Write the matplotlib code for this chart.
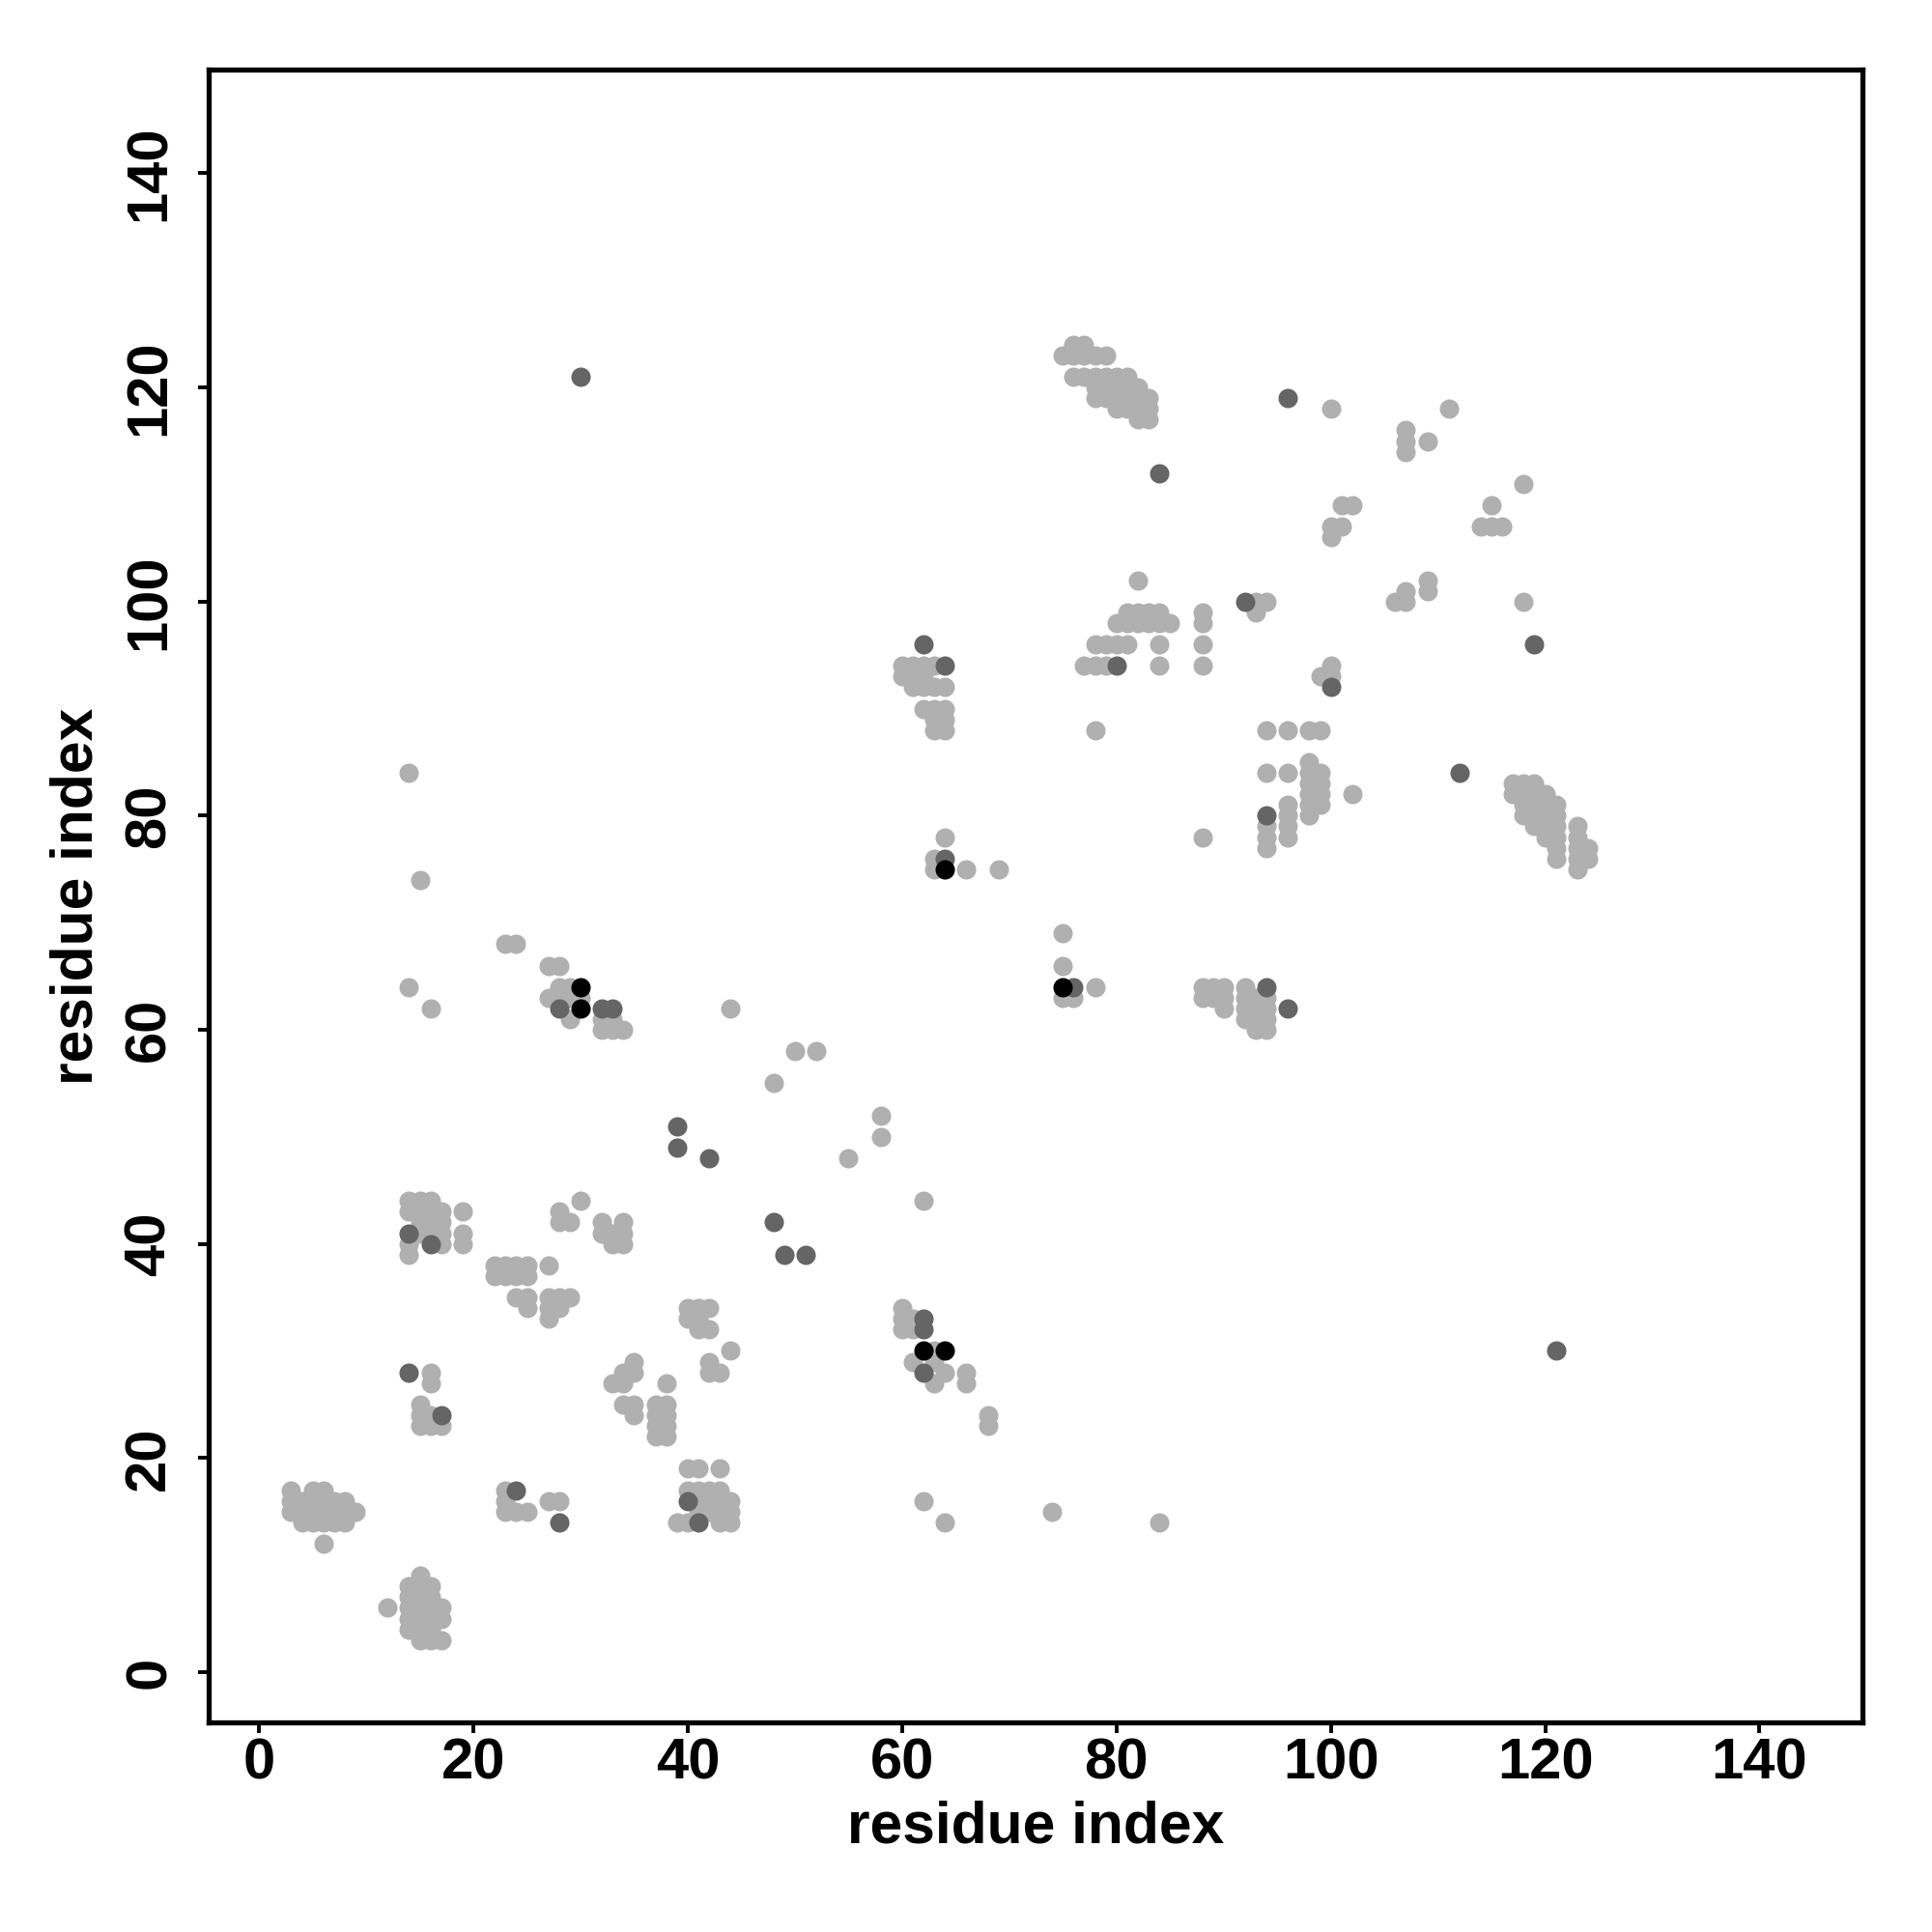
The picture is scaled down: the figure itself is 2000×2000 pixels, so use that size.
import numpy as np
import matplotlib
matplotlib.use("Agg")
import matplotlib.pyplot as plt

plt.rcParams['font.family'] = ['Liberation Sans', 'DejaVu Sans']

# contact map points (residue i, residue j), grouped by shade
light_pts = [
    (3,17),(5,17),(6,17),(3,16),(4,16),(5,16),(6,16),(7,16),(8,16),
    (3,15),(4,15),(5,15),(6,15),(7,15),(8,15),(9,15),(4,14),(5,14),(6,14),(7,14),(8,14),(6,12),
    (12,6),(14,4),(14,5),(14,6),(14,7),(14,8),(15,3),(15,4),(15,5),(15,6),(15,7),(15,8),(15,9),
    (16,3),(16,4),(16,5),(16,6),(16,7),(16,8),(17,3),(17,5),(17,6),
    (14,39),(14,40),(14,43),(14,44),(15,41),(15,42),(15,43),(15,44),(16,41),(16,42),(16,43),(16,44),
    (17,40),(17,41),(17,42),(17,43),(19,40),(19,41),(19,43),
    (16,28),(16,27),(15,25),(15,24),(15,23),(16,24),(16,23),(17,23),
    (14,64),(14,84),(15,74),(16,62),
    (22,38),(23,38),(24,38),(25,38),(22,37),(23,37),(24,37),(25,37),(27,38),
    (24,35),(25,35),(25,34),(27,35),(27,34),(27,33),(28,35),(28,34),(29,35),
    (23,68),(24,68),
    (27,66),(28,66),(28,64),(29,64),(27,63),(28,63),(29,63),(30,63),(29,61),
    (32,61),(33,61),(32,60),(33,60),(34,60),
    (28,43),(28,42),(29,42),(30,44),(32,42),(32,41),(33,41),(33,40),(34,42),(34,41),(34,40),
    (35,29),(34,28),(35,28),(33,27),(34,27),(34,25),(35,25),(35,24),(38,27),
    (37,25),(37,24),(37,23),(37,22),(38,25),(38,24),(38,23),(38,22),
    (23,17),(23,16),(23,15),(24,15),(25,15),(27,16),(28,16),
    (40,19),(41,19),(43,19),(40,17),(41,17),(42,17),(43,17),(41,16),(42,16),(43,16),(44,16),
    (41,15),(42,15),(43,15),(44,15),(39,14),(40,14),(43,14),(44,14),
    (40,34),(41,34),(42,34),(40,33),(41,33),(41,32),(42,32),(44,30),(42,29),(42,28),(43,28),
    (44,62),(50,58),(52,58),(48,55),(58,52),(58,50),(55,48),(62,44),
    (60,34),(60,33),(61,33),(60,32),(61,32),(63,30),(61,29),(63,29),(64,28),(63,27),
    (66,28),(66,27),(68,24),(68,23),
    (62,16),(64,14),(74,15),(84,14),
    (64,78),(63,76),(63,75),(66,75),(69,75),
    (75,69),(75,66),(78,64),(75,63),(76,63),
    (88,64),(89,64),(90,64),(92,64),(88,63),(89,63),(90,63),(92,63),(93,63),(94,63),
    (90,62),(92,62),(93,62),(94,62),(92,61),(93,61),(94,61),(93,60),(94,60),
    (88,78),(94,84),(96,84),(98,85),(98,84),(98,83),(98,82),(98,81),(98,80),
    (99,84),(99,83),(99,82),(99,81),(102,82),(94,79),(94,78),(94,77),
    (96,81),(96,80),(96,79),(96,78),(94,88),(96,88),(98,88),(99,88),
    (117,83),(118,83),(119,83),(117,82),(118,82),(119,82),(120,82),
    (118,81),(119,81),(120,81),(121,81),(118,80),(119,80),(120,80),(121,80),
    (119,79),(120,79),(121,79),(123,79),(120,78),(121,78),(123,78),
    (121,77),(123,77),(124,77),(121,76),(123,76),(124,76),(123,75),
    (60,94),(61,94),(62,94),(63,94),(60,93),(61,93),(62,93),(61,92),(62,92),(63,92),(64,92),
    (62,90),(63,90),(64,90),(63,89),(64,89),(63,88),(64,88),
    (82,102),(81,99),(82,99),(83,99),(84,99),(80,98),(81,98),(82,98),(83,98),(84,98),(85,98),
    (78,96),(79,96),(80,96),(81,96),(84,96),(77,94),(78,94),(79,94),(84,94),(78,88),
    (88,99),(88,98),(88,96),(88,94),
    (76,124),(77,124),(75,123),(76,123),(77,123),(78,123),(79,123),
    (76,121),(77,121),(78,121),(79,121),(80,121),(81,121),
    (78,120),(79,120),(80,120),(81,120),(82,120),
    (78,119),(79,119),(80,119),(81,119),(82,119),(83,119),
    (80,118),(81,118),(82,118),(83,118),(82,117),(83,117),
    (93,100),(94,100),(93,99),(100,94),(99,93),(100,93),
    (100,118),(111,118),(107,116),(107,115),(107,114),(109,115),(118,111),
    (101,109),(102,109),(100,107),(101,107),(100,106),(115,109),(114,107),(115,107),(116,107),
    (109,102),(109,101),(107,101),(106,100),(107,100),(118,100),
]

dark_pts = [
    (14,41),(16,40),(14,28),(17,24),(28,62),(32,62),(33,62),(24,17),(28,14),
    (40,16),(41,14),(39,51),(39,49),(42,48),(48,42),(49,39),(51,39),
    (62,33),(62,32),(62,28),(121,30),(64,76),(76,64),(94,64),(96,62),
    (94,80),(112,84),(62,96),(64,94),(80,94),
    (30,121),(96,119),(84,112),(92,100),(100,92),(119,96),
]

black_pts = [(30,64),(30,62),(62,30),(64,30),(64,75),(75,64)]

light = np.array(light_pts)
dark = np.array(dark_pts)
black = np.array(black_pts)

fig = plt.figure(figsize=(10, 10), dpi=200)
ax = fig.add_axes([0.108, 0.1085, 0.856, 0.8555])

ms = 52
ax.scatter(light[:, 0], light[:, 1], s=ms, c='#b0b0b0', linewidths=0)
ax.scatter(dark[:, 0], dark[:, 1], s=ms, c='#656565', linewidths=0)
ax.scatter(black[:, 0], black[:, 1], s=ms, c='#000000', linewidths=0)

ax.set_xlim(-4.7, 149.6)
ax.set_ylim(-4.7, 149.7)
ax.set_xticks(np.arange(0, 141, 20))
ax.set_yticks(np.arange(0, 141, 20))

for sp in ax.spines.values():
    sp.set_linewidth(1.9)

ax.tick_params(axis='both', direction='out', length=4, width=1.4, labelsize=21.5)
ax.tick_params(axis='x', pad=1.5)
ax.tick_params(axis='y', labelrotation=90, pad=8)
for lab in ax.get_xticklabels() + ax.get_yticklabels():
    lab.set_fontweight('bold')
plt.setp(ax.get_yticklabels(), va='center')

ax.set_xlabel('residue index', fontsize=21.8, fontweight='bold', va='center')
ax.set_ylabel('residue index', fontsize=21.8, fontweight='bold', va='center')
ax.xaxis.set_label_coords(0.5, -0.0637)
ax.yaxis.set_label_coords(-0.0792, 0.5)

fig.savefig('out.png', dpi=200, facecolor='white')
